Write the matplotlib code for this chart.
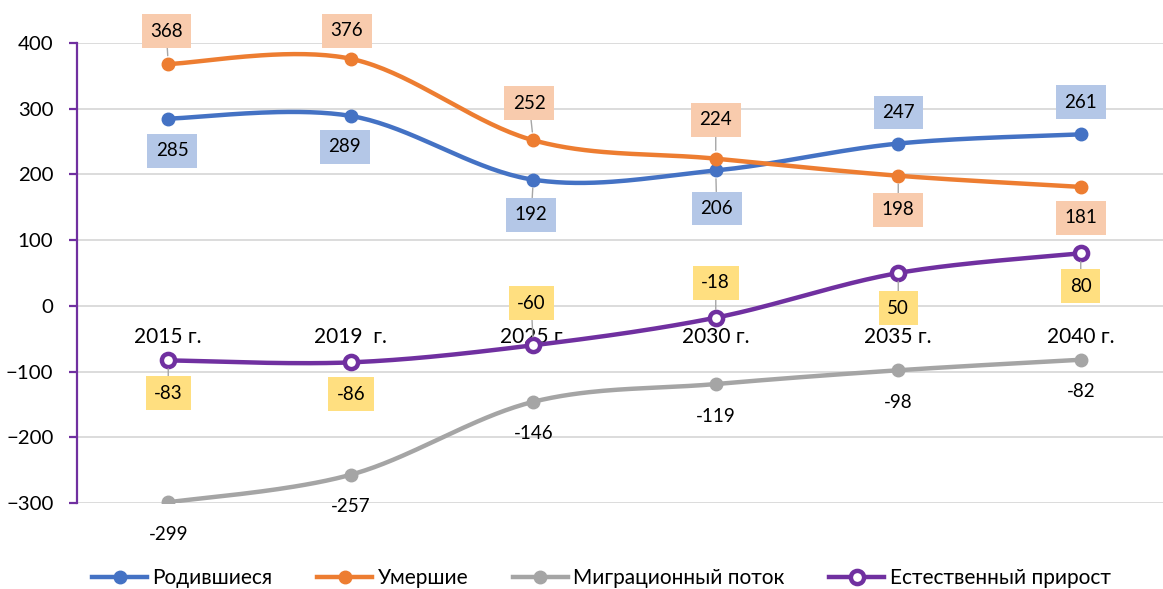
import numpy as np
import matplotlib
matplotlib.use('Agg')
import matplotlib.pyplot as plt

plt.rcParams['font.family'] = ['Lato', 'DejaVu Sans']

# ── Data ──────────────────────────────────────────────────────────────────────
years = ['2015 г.', '2019  г.', '2025 г.', '2030 г.', '2035 г.', '2040 г.']
born = [285, 289, 192, 206, 247, 261]
died = [368, 376, 252, 224, 198, 181]
migration = [-299, -257, -146, -119, -98, -82]
natural = [-83, -86, -60, -18, 50, 80]

# ── Colors ────────────────────────────────────────────────────────────────────
BLUE = '#4472C4'
ORANGE = '#ED7D31'
GRAY = '#A5A5A5'
PURPLE = '#7030A0'
GRID = '#D9D9D9'
BOX_BLUE = '#B4C7E7'
BOX_ORANGE = '#F8CBAD'
BOX_YELLOW = '#FFDF80'

# label offsets (pixels, +down) per point
off_born = [(4, 32), (-6, 31), (-2, 35), (1, 38), (0, -31), (0, -32)]
off_died = [(-2, -33), (-4, -28), (-4, -37), (0, -39), (0, 34), (0, 31)]
off_nat = [(0, 33), (0, 32), (-2, -42), (0, -35), (0, 35), (0, 33)]
off_mig = [(0, 32)] * 6


def smooth(xs, ys, n=40):
    # Excel-like smoothing: cubic Bezier with Catmull-Rom control points
    p = np.column_stack([xs, ys]).astype(float)
    pts = [p[0]] + list(p) + [p[-1]]
    out = []
    t = np.linspace(0, 1, n)[:, None]
    for i in range(1, len(pts) - 2):
        p0, p1, p2, p3 = pts[i - 1], pts[i], pts[i + 1], pts[i + 2]
        c1 = p1 + (p2 - p0) / 6
        c2 = p2 - (p3 - p1) / 6
        seg = ((1 - t) ** 3) * p1 + 3 * ((1 - t) ** 2) * t * c1 + \
              3 * (1 - t) * t ** 2 * c2 + t ** 3 * p2
        out.append(seg if i == 1 else seg[1:])
    s = np.vstack(out)
    return s[:, 0], s[:, 1]


fig = plt.figure(figsize=(11.63, 5.89), dpi=100)
ax = fig.add_axes([77 / 1163, 86 / 589, 1095 / 1163, 460 / 589])
ax.set_xlim(-0.5, 5.5)
ax.set_ylim(-300, 400)
ax.set_yticks(range(-300, 401, 100))
ax.yaxis.grid(True, color=GRID, linewidth=1.3)
ax.set_axisbelow(True)

for s in ['top', 'right']:
    ax.spines[s].set_visible(False)
ax.spines['left'].set_color(PURPLE)
ax.spines['left'].set_linewidth(1.6)
ax.spines['bottom'].set_position(('data', 0))
ax.spines['bottom'].set_color('none')
ax.tick_params(axis='y', colors=PURPLE, length=6, width=1.6, pad=11,
               labelsize=14.7, labelcolor='black')
ax.set_xticks(range(len(years)))
ax.set_xticklabels(years)
ax.tick_params(axis='x', length=0, pad=15, labelsize=15)

x = np.arange(len(years))
series = [
    ('Родившиеся', born, BLUE, BLUE, off_born, BOX_BLUE),
    ('Умершие', died, ORANGE, ORANGE, off_died, BOX_ORANGE),
    ('Миграционный поток', migration, GRAY, GRAY, off_mig, None),
    ('Естественный прирост', natural, PURPLE, 'white', off_nat, BOX_YELLOW),
]

handles = []
for name, vals, col, face, offs, box in series:
    sx, sy = smooth(x, vals)
    ax.plot(sx, sy, color=col, linewidth=3.2, solid_capstyle='round', zorder=3)
    mew = 3.2 if face == 'white' else 1
    ms = 9.5 if face == 'white' else 9
    ax.plot(x, vals, linestyle='none', marker='o', markersize=ms,
            markerfacecolor=face, markeredgecolor=col, markeredgewidth=mew, zorder=4)
    h, = ax.plot([], [], color=col, linewidth=3.2, marker='o', markersize=ms,
                 markerfacecolor=face, markeredgecolor=col, markeredgewidth=mew)
    handles.append((h, name))
    for xi, v, (dx, dy) in zip(x, vals, offs):
        bbox = dict(boxstyle='square,pad=0.45', fc=box, ec='none') if box else None
        arrow = None
        if box and abs(dy) >= 33:
            arrow = dict(arrowstyle='-', color='#A6A6A6', lw=1,
                         shrinkA=0, shrinkB=6)
        ax.annotate(f'{v}', xy=(xi, v), xytext=(dx * 0.72, -dy * 0.72),
                    textcoords='offset points', ha='center', va='center',
                    fontsize=13.5, color='black', bbox=bbox,
                    arrowprops=arrow, zorder=5)

fig.legend([h for h, _ in handles], [n for _, n in handles], loc='center',
           bbox_to_anchor=(0.517, 0.019), ncol=4, frameon=False, fontsize=15,
           handlelength=2.64, handletextpad=0.25, columnspacing=2.15)

fig.savefig('out.png', dpi=100)
